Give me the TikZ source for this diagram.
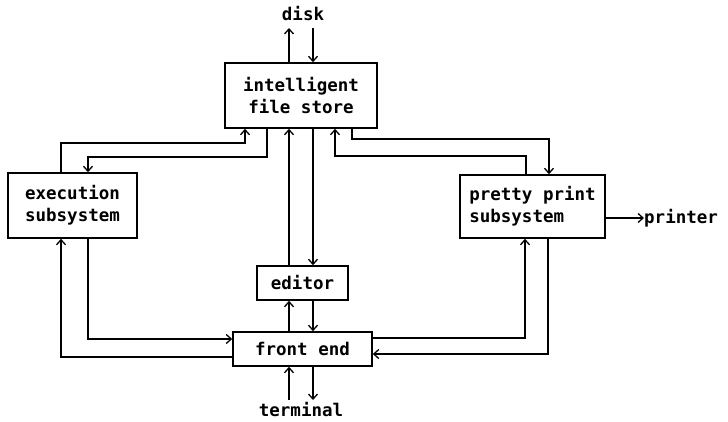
\documentclass[tikz,border=0pt]{standalone}
\usepackage{fontspec}
\setmonofont{DejaVu Sans Mono}
\usetikzlibrary{arrows.meta}
\begin{document}
\begin{tikzpicture}[x=1pt,y=-1pt,
  box/.style={draw,line width=1.6pt,inner sep=0pt,align=left},
  lbl/.style={inner sep=0pt},
  arr/.style={line width=1.5pt,-{Straight Barb[length=5pt,width=9pt,line width=1.3pt]}},
  ln/.style={line width=1.5pt},
  every node/.style={font=\fontsize{17.5}{22}\ttfamily\bfseries}]
\useasboundingbox (0,0) rectangle (728,421);
% boxes
\node[box,minimum width=152pt,minimum height=65pt,align=center] (ifs) at (301,95.5) {intelligent\\ file store};
\node[box,minimum width=129pt,minimum height=65pt] (exec) at (72.5,205.5) {execution\\subsystem};
\node[box,minimum width=145pt,minimum height=63pt] (pp) at (532.5,206.5) {pretty print\\subsystem};
\node[box,minimum width=91pt,minimum height=34pt] (ed) at (302.5,283) {editor};
\node[box,minimum width=139pt,minimum height=34pt] (fe) at (302.5,349) {front end};
% labels
\node[lbl] (disk) at (303,14) {disk};
\node[lbl] (term) at (301,410) {terminal};
\node[lbl,anchor=west] (prn) at (644,218) {printer};
% verticals
\coordinate (vu) at (289,0);
\coordinate (vd) at (313,0);
\coordinate (dtop) at (0,28);
\coordinate (tbot) at (0,400);
% disk
\draw[arr] (vu |- ifs.north) -- (vu |- dtop);
\draw[arr] (vd |- dtop) -- (vd |- ifs.north);
% ifs <-> editor
\draw[arr] (vu |- ed.north) -- (vu |- ifs.south);
\draw[arr] (vd |- ifs.south) -- (vd |- ed.north);
% editor <-> front end
\draw[arr] (vu |- fe.north) -- (vu |- ed.south);
\draw[arr] (vd |- ed.south) -- (vd |- fe.north);
% terminal
\draw[arr] (vu |- tbot) -- (vu |- fe.south);
\draw[arr] (vd |- fe.south) -- (vd |- tbot);
% exec <-> ifs
\coordinate (e1) at (61,143);
\coordinate (e2) at (245,143);
\draw[arr] (e1 |- exec.north) -- (e1) -- (e2) -- (e2 |- ifs.south);
\coordinate (e3) at (267,157);
\coordinate (e4) at (88,157);
\draw[arr] (e3 |- ifs.south) -- (e3) -- (e4) -- (e4 |- exec.north);
% pp <-> ifs
\coordinate (p1) at (352,139);
\coordinate (p2) at (549,139);
\draw[arr] (p1 |- ifs.south) -- (p1) -- (p2) -- (p2 |- pp.north);
\coordinate (p3) at (526,156);
\coordinate (p4) at (335,156);
\draw[arr] (p3 |- pp.north) -- (p3) -- (p4) -- (p4 |- ifs.south);
% printer
\draw[arr] (pp.east |- prn.west) -- (prn.west);
% exec <-> front end
\coordinate (f1) at (88,339);
\draw[arr] (f1 |- exec.south) -- (f1) -- (f1 -| fe.west);
\coordinate (f2) at (61,357);
\draw[arr] (f2 -| fe.west) -- (f2) -- (f2 |- exec.south);
% pp <-> front end
\coordinate (g1) at (525,338);
\draw[arr] (g1 -| fe.east) -- (g1) -- (g1 |- pp.south);
\coordinate (g2) at (548,354);
\draw[arr] (g2 |- pp.south) -- (g2) -- (g2 -| fe.east);
\end{tikzpicture}
\end{document}
